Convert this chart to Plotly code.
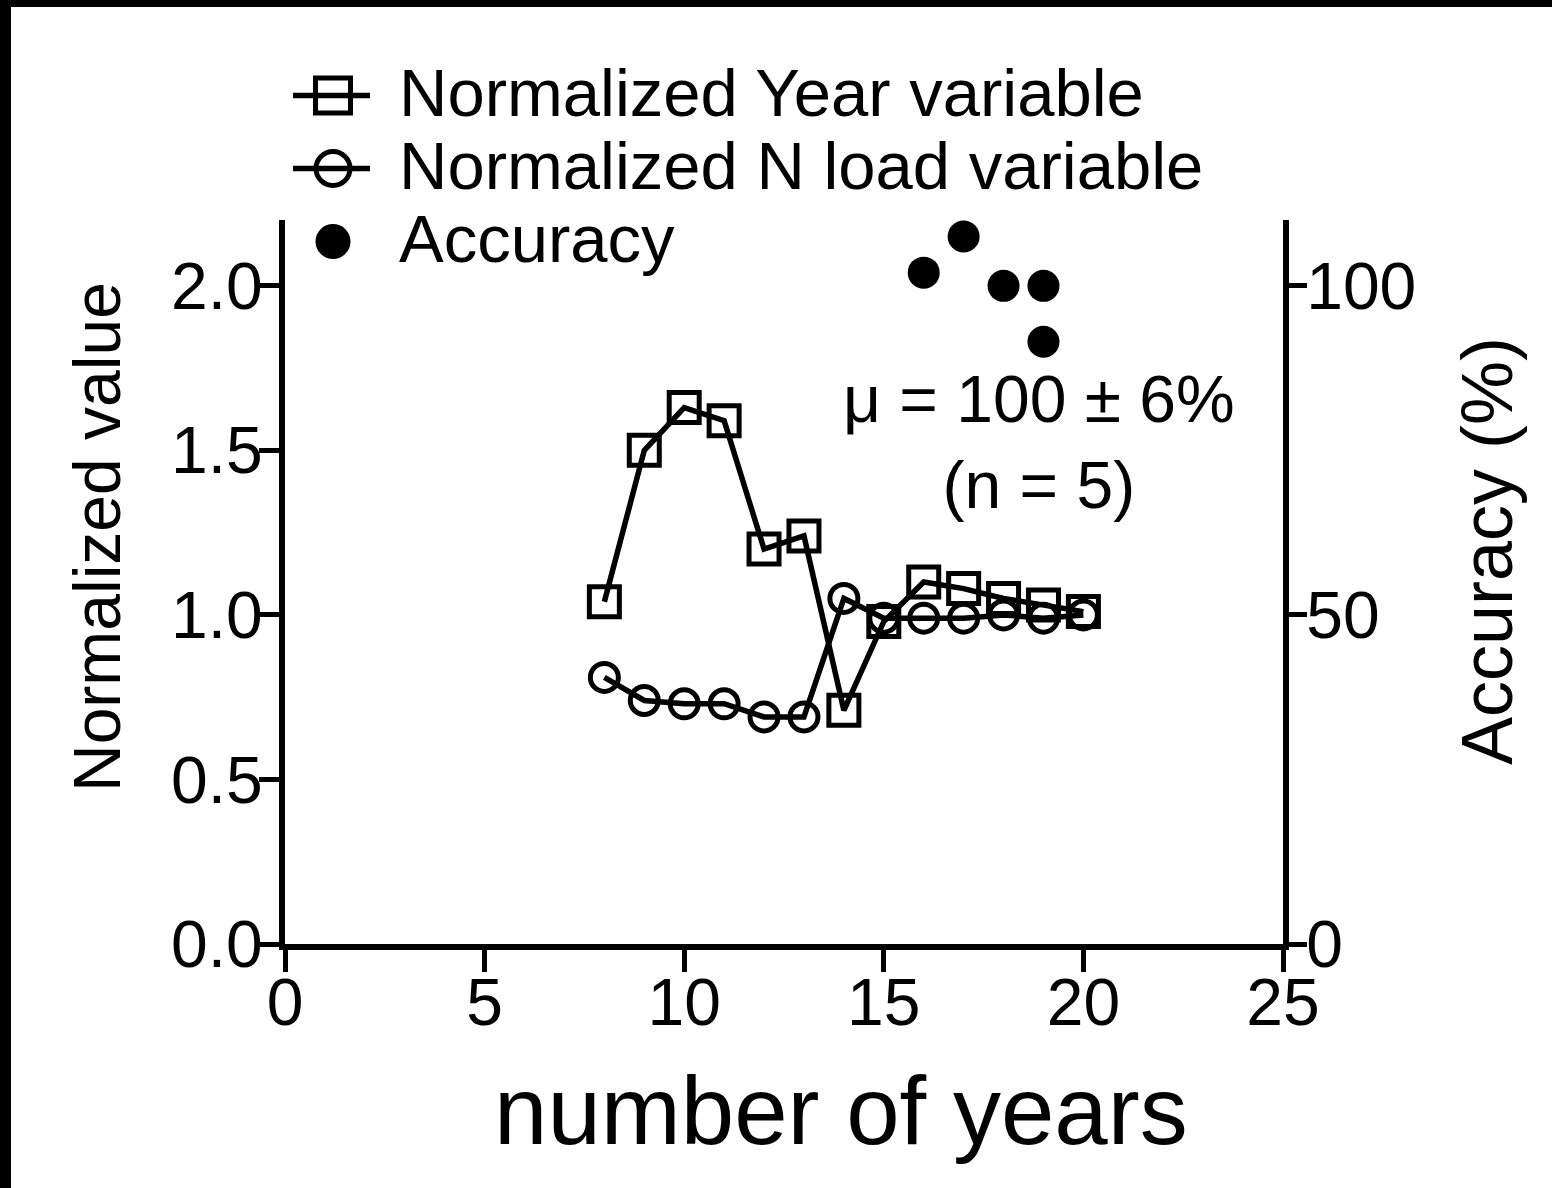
import plotly.graph_objects as go

# ---- data ----
years = [8, 9, 10, 11, 12, 13, 14, 15, 16, 17, 18, 19, 20]
year_variable = [1.04, 1.50, 1.63, 1.59, 1.20, 1.24, 0.71, 0.98, 1.10, 1.08, 1.05, 1.03, 1.01]
n_load_variable = [0.81, 0.74, 0.73, 0.73, 0.69, 0.69, 1.05, 0.99, 0.99, 0.99, 1.00, 0.99, 1.00]

accuracy_years = [16, 17, 18, 19, 19]
accuracy_pct = [102.0, 107.5, 100.0, 100.0, 91.5]

left_ticks = [0.0, 0.5, 1.0, 1.5, 2.0]
left_tick_text = ["0.0", "0.5", "1.0", "1.5", "2.0"]
right_ticks = [0, 50, 100]
x_ticks = [0, 5, 10, 15, 20, 25]

legend_labels = ["Normalized Year variable", "Normalized N load variable", "Accuracy"]
stats_text = "μ = 100 ± 6%<br>(n = 5)"
x_title = "number of years"
y_title = "Normalized value"
y2_title = "Accuracy (%)"

# ---- page geometry (pixels) ----
W, H = 1552, 1188
ML, MR, MT, MB = 285, 269, 0, 244
PW = W - ML - MR            # plot width
PH = H - MT - MB            # full plotting height
AXIS_TOP = 220              # top of the data axes, in page pixels
FONT = "Liberation Sans, Arial, sans-serif"


def py(p):
    """page pixel row -> paper y"""
    return (H - MB - p) / PH


def px(p):
    """page pixel column -> paper x"""
    return (p - ML) / PW


main_domain = [0, py(AXIS_TOP)]
LW = 5.5      # data line width
MLW = 5       # open-marker outline width

fig = go.Figure()

# Normalized Year variable (open squares)
fig.add_trace(go.Scatter(
    x=years, y=year_variable, mode="lines+markers", name=legend_labels[0],
    line=dict(color="black", width=LW),
    marker=dict(symbol="square-open", size=30, color="black", line=dict(width=MLW)),
    cliponaxis=False, xaxis="x", yaxis="y"))

# Normalized N load variable (open circles)
fig.add_trace(go.Scatter(
    x=years, y=n_load_variable, mode="lines+markers", name=legend_labels[1],
    line=dict(color="black", width=LW),
    marker=dict(symbol="circle-open", size=28, color="black", line=dict(width=MLW)),
    cliponaxis=False, xaxis="x", yaxis="y"))

# Accuracy (filled dots, right axis)
fig.add_trace(go.Scatter(
    x=accuracy_years, y=accuracy_pct, mode="markers", name=legend_labels[2],
    marker=dict(symbol="circle", size=32, color="black"),
    cliponaxis=False, xaxis="x", yaxis="y2"))

# ---- key (legend) drawn on its own hidden axes ----
key_rows = [0, 1, 2]
key_line_x = [8, 85]
key_marker_x = 48
key_styles = [
    dict(symbol="square-open", size=35, color="black", line=dict(width=MLW)),
    dict(symbol="circle-open", size=34, color="black", line=dict(width=MLW)),
    dict(symbol="circle", size=35, color="black"),
]
for row, style in zip(key_rows, key_styles):
    if row < 2:
        fig.add_trace(go.Scatter(
            x=key_line_x, y=[row, row], mode="lines",
            line=dict(color="black", width=LW),
            xaxis="x3", yaxis="y3", hoverinfo="skip", cliponaxis=False))
    fig.add_trace(go.Scatter(
        x=[key_marker_x], y=[row], mode="markers", marker=style,
        xaxis="x3", yaxis="y3", hoverinfo="skip", cliponaxis=False))

annotations = []
for row, label in zip(key_rows, legend_labels):
    annotations.append(dict(
        x=112, y=row - 0.04, xref="x3", yref="y3", text=label, showarrow=False,
        xanchor="left", yanchor="middle", font=dict(size=67, color="black", family=FONT)))

annotations.append(dict(
    x=18.9, y=1.525, xref="x", yref="y", text=stats_text, showarrow=False,
    xanchor="center", yanchor="middle", align="center",
    font=dict(size=66, color="black", family=FONT)))

# axis titles
annotations.append(dict(
    x=px(841), y=py(1110), xref="paper", yref="paper", text=x_title, showarrow=False,
    xanchor="center", yanchor="middle", font=dict(size=96, color="black", family=FONT)))
annotations.append(dict(
    x=px(97), y=py(537), xref="paper", yref="paper", text=y_title, showarrow=False,
    textangle=-90, xanchor="center", yanchor="middle",
    font=dict(size=66, color="black", family=FONT)))
annotations.append(dict(
    x=px(1487), y=py(551), xref="paper", yref="paper", text=y2_title, showarrow=False,
    textangle=-90, xanchor="center", yanchor="middle",
    font=dict(size=72, color="black", family=FONT)))

axis_common = dict(showline=True, linecolor="black", linewidth=6, ticks="outside",
                   tickcolor="black", tickwidth=5, showgrid=False, zeroline=False,
                   tickfont=dict(size=66, color="black", family=FONT))

# black frame along the left and top edges of the page
shapes = [
    dict(type="rect", xref="paper", yref="paper", x0=px(0), x1=px(11), y0=py(H), y1=py(0),
         fillcolor="black", line=dict(width=0), layer="above"),
    dict(type="rect", xref="paper", yref="paper", x0=px(0), x1=px(W), y0=py(7), y1=py(0),
         fillcolor="black", line=dict(width=0), layer="above"),
]

key_top, key_bottom = 59, 278
fig.update_layout(
    width=W, height=H,
    margin=dict(l=ML, r=MR, t=MT, b=MB, pad=0, autoexpand=False),
    paper_bgcolor="white", plot_bgcolor="white", showlegend=False,
    font=dict(family=FONT, color="black"),
    xaxis=dict(range=[0, 25], tickvals=x_ticks, ticklen=22, anchor="y",
               ticklabelstandoff=-26, **axis_common),
    yaxis=dict(domain=main_domain, range=[0, 2.2], tickvals=left_ticks,
               ticktext=left_tick_text, ticklen=20, anchor="x",
               ticklabelstandoff=-17, **axis_common),
    yaxis2=dict(overlaying="y", side="right", anchor="x", range=[0, 110],
                tickvals=right_ticks, ticklen=18, ticklabelstandoff=-14,
                **axis_common),
    xaxis3=dict(domain=[0, 120 / PW], range=[0, 120], visible=False, anchor="y3"),
    yaxis3=dict(domain=[py(key_bottom), py(key_top)], range=[2.5, -0.5],
                visible=False, anchor="x3"),
    annotations=annotations,
    shapes=shapes,
)

fig.write_html("out.html")
